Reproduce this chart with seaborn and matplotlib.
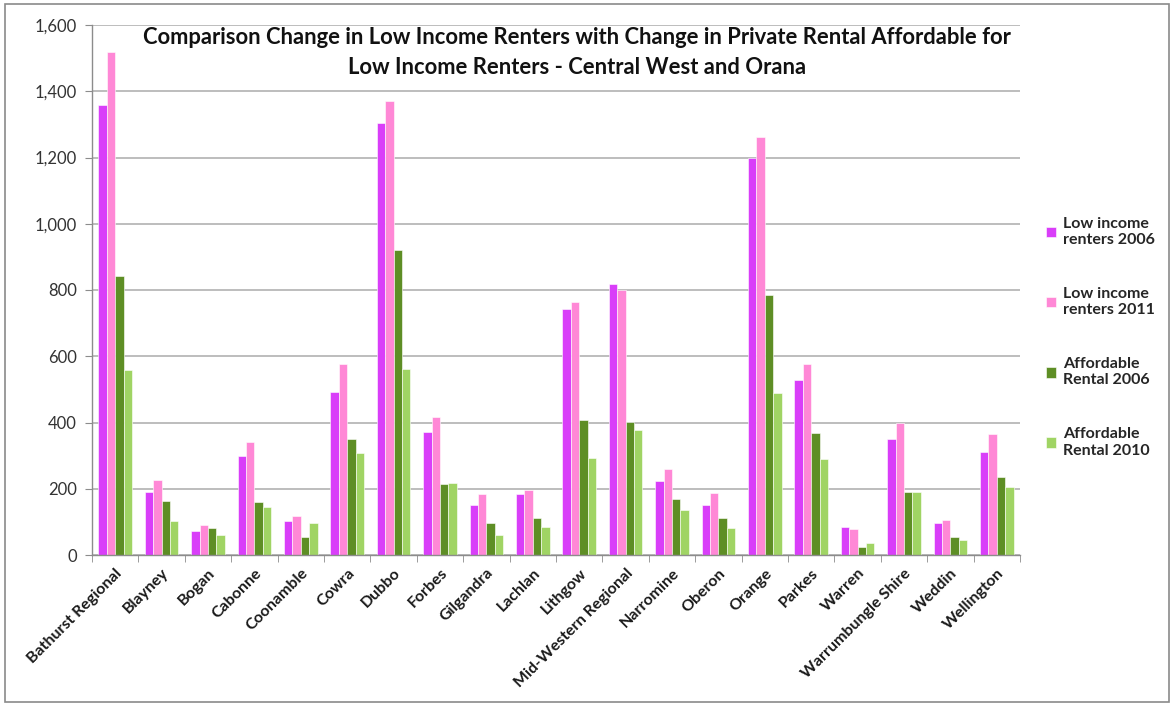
import matplotlib
matplotlib.use("Agg")
import matplotlib.pyplot as plt
import seaborn as sns
import pandas as pd
from matplotlib.ticker import FuncFormatter, FixedLocator
from matplotlib.patches import Rectangle

councils = ["Bathurst Regional", "Blayney", "Bogan", "Cabonne", "Coonamble", "Cowra",
            "Dubbo", "Forbes", "Gilgandra", "Lachlan", "Lithgow", "Mid-Western Regional",
            "Narromine", "Oberon", "Orange", "Parkes", "Warren", "Warrumbungle Shire",
            "Weddin", "Wellington"]
low_income_2006 = [1357, 191, 71, 300, 103, 493, 1305, 372, 152, 184, 743, 817, 222, 152, 1197, 527, 86, 349, 97, 311]
low_income_2011 = [1520, 226, 90, 342, 118, 578, 1371, 416, 183, 195, 763, 800, 259, 187, 1261, 578, 78, 399, 106, 365]
affordable_2006 = [841, 164, 83, 160, 55, 349, 922, 213, 97, 113, 407, 403, 168, 113, 786, 368, 24, 190, 55, 236]
affordable_2010 = [559, 103, 59, 145, 98, 307, 561, 218, 59, 86, 292, 376, 137, 83, 489, 291, 35, 190, 44, 206]
series_names = ["Low income\nrenters 2006", "Low income\nrenters 2011",
                "Affordable\nRental 2006", "Affordable\nRental 2010"]
colors = ["#D93EF9", "#FF88D6", "#5E8E25", "#A0D464"]
title = ("Comparison Change in Low Income Renters with Change in Private Rental Affordable for\n"
         "Low Income Renters - Central West and Orana")

rows = []
for name, vals in zip(series_names, [low_income_2006, low_income_2011, affordable_2006, affordable_2010]):
    for c, v in zip(councils, vals):
        rows.append({"Council": c, "Series": name, "Value": v})
df = pd.DataFrame(rows)

sns.set_style("white")
plt.rcParams["font.family"] = ["Lato", "DejaVu Sans"]

W, H = 1174, 706
fig = plt.figure(figsize=(W / 100, H / 100), dpi=100)
ax = fig.add_axes([92 / W, 1 - 555 / H, (1020 - 92) / W, (555 - 25) / H])

sns.barplot(data=df, x="Council", y="Value", hue="Series", palette=colors,
            order=councils, hue_order=series_names, width=0.72, saturation=1,
            edgecolor="white", linewidth=0.4, ax=ax, legend=True)

ax.set_xlim(-0.5, len(councils) - 0.5)
ax.set_ylim(0, 1600)
ax.set_yticks(range(0, 1601, 200))
ax.yaxis.set_major_formatter(FuncFormatter(lambda v, p: f"{int(v):,}"))
ax.yaxis.grid(True, color="#ABABAB", linewidth=1.1)
ax.set_axisbelow(True)
ax.set_xlabel("")
ax.set_ylabel("")

for s in ["top", "right"]:
    ax.spines[s].set_visible(False)
for s in ["left", "bottom"]:
    ax.spines[s].set_color("#8C8C8C")
    ax.spines[s].set_linewidth(1.0)

ax.tick_params(axis="y", which="major", direction="out", length=5, color="#8C8C8C",
               labelsize=12, labelcolor="#333333", pad=6, left=True)
ax.set_xticks(range(len(councils)))
ax.set_xticklabels(councils, rotation=45, ha="right", rotation_mode="anchor",
                   fontsize=11.5, fontweight="bold", color="#1a1a1a")
ax.tick_params(axis="x", which="major", length=0, pad=8)
ax.xaxis.set_minor_locator(FixedLocator([i - 0.5 for i in range(len(councils) + 1)]))
ax.tick_params(axis="x", which="minor", direction="out", length=5, color="#8C8C8C", bottom=True)

handles, labels = ax.get_legend_handles_labels()
ax.legend_.remove()
fig.legend(handles, labels, loc="upper left", bbox_to_anchor=(1046 / W, 1 - 217 / H),
           frameon=False, prop={"weight": "bold", "size": 11.5},
           handlelength=0.65, handleheight=0.65, handletextpad=0.4, labelspacing=2.5,
           borderpad=0, borderaxespad=0)

fig.text(577 / W, 1 - 52.5 / H, title, ha="center", va="center", fontsize=15.8,
         fontweight="bold", color="#111111", linespacing=1.55)

fig.patches.append(Rectangle((5 / W, 4 / H), (W - 10) / W, (H - 8) / H,
                             transform=fig.transFigure, fill=False,
                             edgecolor="#8A8A8A", linewidth=1.2))

fig.savefig("out.png", dpi=100)
